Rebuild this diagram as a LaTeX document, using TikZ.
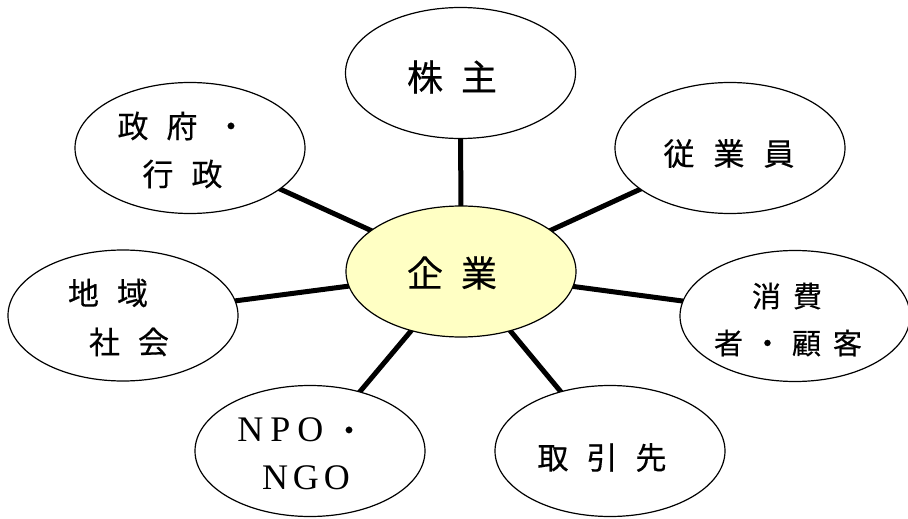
\documentclass[tikz,border=0pt]{standalone}
\usepackage{fontspec}
\newfontfamily\jp[FakeBold=0.4]{Noto Sans CJK JP}
\newfontfamily\lat{Liberation Serif}
\usetikzlibrary{shapes.geometric,backgrounds}
\definecolor{corefill}{HTML}{FFFFC4}
\newcommand\gp[1]{\hspace{#1pt}}
\begin{document}
\begin{tikzpicture}[x=1pt,y=-1pt,
  bub/.style={ellipse, draw=black, line width=1.2pt, fill=white,
    minimum width=230pt, minimum height=131pt, inner sep=0pt},
  core/.style={bub, fill=corefill},
  link/.style={line width=5pt},
  lbl/.style={inner sep=0pt, font=\jp\fontsize{31}{31}\selectfont},
  biglbl/.style={inner sep=0pt, font=\jp\fontsize{36}{36}\selectfont},
  smalllbl/.style={inner sep=0pt, font=\jp\fontsize{29}{29}\selectfont},
  latlbl/.style={inner sep=0pt, font=\lat\fontsize{36}{36}\selectfont}]
\useasboundingbox (0,0) rectangle (908,519);
% bubbles
\node[bub]  (kabu)   at (460.5,73)  {};
\node[bub]  (seifu)  at (190,148)   {};
\node[bub]  (jugyo)  at (730,148)   {};
\node[core] (kigyo)  at (461,271.5) {};
\node[bub]  (chiiki) at (123,315.5) {};
\node[bub]  (shohi)  at (795,316)   {};
\node[bub]  (npo)    at (310,451)   {};
\node[bub]  (tori)   at (610,451)   {};
% connectors
\begin{scope}[on background layer]
\draw[link] (kigyo.center) -- (kabu.center);
\draw[link] (kigyo.center) -- (seifu.center);
\draw[link] (kigyo.center) -- (jugyo.center);
\draw[link] (kigyo.center) -- (chiiki.center);
\draw[link] (kigyo.center) -- (shohi.center);
\draw[link] (kigyo.center) -- (npo.center);
\draw[link] (kigyo.center) -- (tori.center);
\end{scope}
% labels
\node[biglbl] (tKabu)  at (452,77)    {株\gp{18}主};
\node[biglbl] (tKigyo) at (452,273)   {企\gp{18}業};
\node[lbl] (tSeifuA)   at (182,126)   {政\gp{18}府\gp{18}・};
\node[lbl] (tSeifuB)   at (182.5,174) {行\gp{18}政};
\node[lbl] (tJugyo)    at (729,153.5) {従\gp{19}業\gp{19}員};
\node[lbl] (tChiikiA)  at (108,293)   {地\gp{18}域};
\node[lbl] (tChiikiB)  at (129,342)   {社\gp{18}会};
\node[smalllbl] (tShohiA) at (787,296) {消\gp{12}費};
\node[smalllbl] (tShohiB) at (788,343) {者\gp{10}・\gp{10}顧\gp{12}客};
\node[lbl] (tTori)     at (602,457.5) {取\gp{18}引\gp{18}先};
\node[latlbl] (tNpoA)  at (301,430)   {N\gp{7}P\gp{7}O\gp{10}{\jp\fontsize{31}{31}\selectfont ・}};
\node[latlbl] (tNpoB)  at (306,478)   {N\gp{5}G\gp{5}O};
\end{tikzpicture}
\end{document}
